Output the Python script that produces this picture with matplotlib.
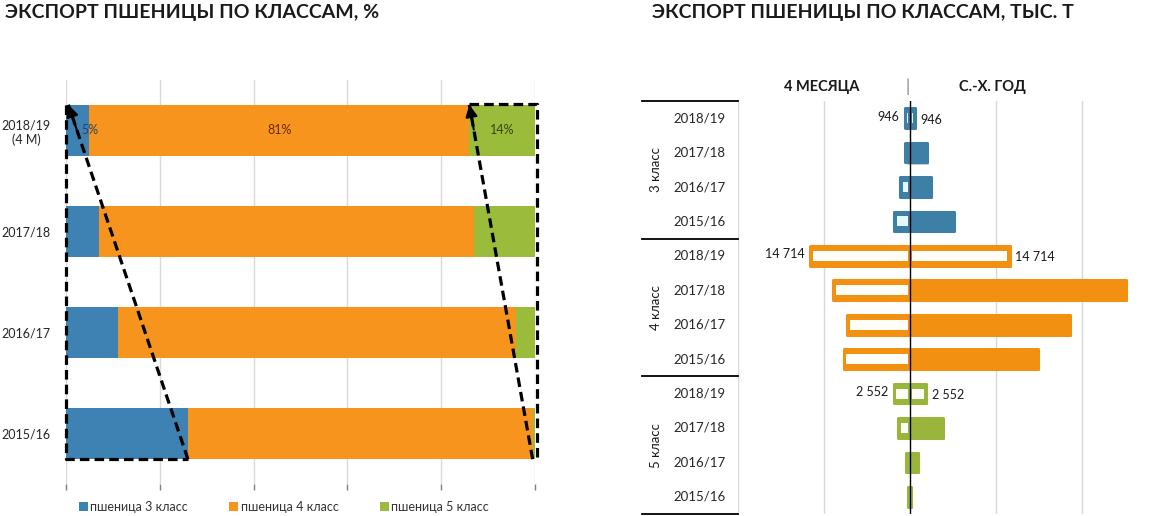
import matplotlib
matplotlib.use('Agg')
import matplotlib.pyplot as plt
import matplotlib.patheffects as pe
from matplotlib.patches import Patch

plt.rcParams['font.family'] = ['Lato', 'DejaVu Sans']

# Left chart: export shares by class, %
season_labels = ['2018/19\n(4 М)', '2017/18', '2016/17', '2015/16']
pct_cls3 = [5, 7, 11, 26]
pct_cls4 = [81, 80, 85, 73.5]
pct_cls5 = [14, 13, 4, 0.5]
legend_labels = ['пшеница 3 класс', 'пшеница 4 класс', 'пшеница 5 класс']

# Right chart: export volumes, thousand t (4 months vs. whole season)
seasons = ['2018/19', '2017/18', '2016/17', '2015/16']
class_names = ['3 класс', '4 класс', '5 класс']
m4_cls3 = [946, 900, 1600, 2500]
m4_cls4 = [14714, 11350, 9300, 9850]
m4_cls5 = [2552, 1950, 850, 450]
yr_cls3 = [946, 2700, 3300, 6600]
yr_cls4 = [14714, 31600, 23450, 18800]
yr_cls5 = [2552, 5050, 1350, 350]
grid_step = 12500

W, H = 1167, 516
fig = plt.figure(figsize=(W / 100, H / 100), dpi=100)


def fx(px):
    return px / W


def fy(py):
    return 1 - py / H


blue, orange, green = '#3d82b3', '#f7941d', '#9bbb3a'
blue_r, orange_r, green_r = '#3e7fa6', '#f29111', '#99b53b'

# ---------- left chart ----------
axL = fig.add_axes([fx(66), fy(484), fx(535 - 66), (484 - 80) / H])
ypos = [3, 2, 1, 0]
bh = 0.51
left4 = [a for a in pct_cls3]
left5 = [a + b for a, b in zip(pct_cls3, pct_cls4)]
axL.barh(ypos, pct_cls3, height=bh, color=blue, zorder=2)
axL.barh(ypos, pct_cls4, left=left4, height=bh, color=orange, zorder=2)
axL.barh(ypos, pct_cls5, left=left5, height=bh, color=green, zorder=2)
axL.set_xlim(0, 100)
axL.set_ylim(-0.5, 3.5)
axL.set_xticks(range(0, 101, 20))
axL.set_xticklabels([])
axL.grid(axis='x', color='#d9d9d9', lw=1, zorder=0)
axL.set_axisbelow(True)
for s in axL.spines.values():
    s.set_visible(False)
axL.tick_params(axis='x', direction='out', length=4, width=1, color='#7f7f7f')
axL.tick_params(axis='y', length=0, pad=11, labelsize=9, labelcolor='#262626')
axL.set_yticks(ypos)
axL.set_yticklabels(season_labels)
for lbl in axL.get_yticklabels():
    lbl.set_multialignment('center')

# data labels for the current season
axL.text(pct_cls3[0], ypos[0], f'{pct_cls3[0]}%', ha='center', va='center',
         fontsize=9, color='#27445e', zorder=4)
axL.text(left4[0] + pct_cls4[0] / 2, ypos[0], f'{pct_cls4[0]}%', ha='center',
         va='center', fontsize=9, color='#6b2a00', zorder=4)
axL.text(left5[0] + pct_cls5[0] / 2, ypos[0], f'{pct_cls5[0]}%', ha='center',
         va='center', fontsize=9, color='#3a4418', zorder=4)

# dashed highlight frames with arrows
top = ypos[0] + bh / 2
bot = ypos[-1] - bh / 2
dash = dict(color='black', lw=2.3, linestyle=(0, (3, 1.6)), zorder=6, clip_on=False)


def dashed_arrow(ax, start, tip):
    ax.plot([start[0], tip[0]], [start[1], tip[1]], **dash)
    back = (tip[0] + 0.07 * (start[0] - tip[0]), tip[1] + 0.07 * (start[1] - tip[1]))
    ax.annotate('', xy=tip, xytext=back, zorder=7, annotation_clip=False,
                arrowprops=dict(arrowstyle='-|>', color='black', lw=1.5,
                                mutation_scale=18, shrinkA=0, shrinkB=0))


axL.plot([0, 0, pct_cls3[-1]], [top, bot, bot], **dash)
dashed_arrow(axL, (pct_cls3[-1], bot), (0.5, top))
edge = 100.4
axL.plot([left5[0], edge, edge], [top + 0.01, top + 0.01, bot], **dash)
dashed_arrow(axL, (left5[-1], bot), (left5[0], top))

fig.legend(handles=[Patch(facecolor=c) for c in (blue, orange, green)],
           labels=legend_labels, loc='center', bbox_to_anchor=(fx(284), fy(507)),
           ncol=3, frameon=False, handlelength=0.7, handleheight=0.7,
           handletextpad=0.2, columnspacing=3.3, fontsize=9, labelcolor='#333333')

fig.text(fx(5), fy(18), 'ЭКСПОРТ ПШЕНИЦЫ ПО КЛАССАМ, %', fontsize=14,
         weight='bold', color='#1a1a1a', va='baseline')

# ---------- right chart ----------
axR = fig.add_axes([fx(738), fy(514), fx(1168 - 738), (514 - 101) / H])
axR.set_xlim(-2 * grid_step, 3 * grid_step)
axR.set_ylim(11.5, -0.5)
axR.axis('off')
for k in range(-2, 4):
    if k != 0:
        axR.axvline(k * grid_step, color='#d9d9d9', lw=1, zorder=0)
axR.axvline(0, color='black', lw=1, zorder=8)

unit = 5 * grid_step / 430  # data units per pixel
shadow = [pe.SimplePatchShadow(offset=(1.5, -1.5), shadow_rgbFace='#777777', alpha=0.35),
          pe.Normal()]


def draw_bar(y, value, sign, color, hollow, inner):
    w = max(value - 1.4 * unit, 0.3 * unit)
    axR.barh(y, sign * w, height=0.57, color=color, edgecolor=color, linewidth=2.2,
             joinstyle='round', path_effects=shadow, zorder=3)
    if hollow:
        gap, border = 2 * unit, 4 * unit
        iw = value - border - gap
        if iw > 0:
            axR.barh(y, sign * iw, left=sign * gap, height=0.29, color=inner,
                     linewidth=0, zorder=4)


groups = [(m4_cls3, yr_cls3, blue_r, '#e4f7fb'),
          (m4_cls4, yr_cls4, orange_r, '#fffdf7'),
          (m4_cls5, yr_cls5, green_r, '#fbfdf4')]
for g, (m4, yr, col, inner) in enumerate(groups):
    for i in range(len(seasons)):
        y = g * 4 + i
        draw_bar(y, m4[i], -1, col, True, inner)
        draw_bar(y, yr[i], 1, col, i == 0, inner)
    y0 = g * 4
    axR.annotate(f'{m4[0]:,}'.replace(',', ' '), (-m4[0], y0), xytext=(-3, 1),
                 textcoords='offset points', ha='right', va='center', fontsize=9,
                 color='#1a1a1a', zorder=9)
    axR.annotate(f'{yr[0]:,}'.replace(',', ' '), (yr[0], y0), xytext=(3, -1),
                 textcoords='offset points', ha='left', va='center', fontsize=9,
                 color='#1a1a1a', zorder=9)

# category table on the left of the right chart
axT = fig.add_axes([fx(642), fy(514), fx(738 - 642), (514 - 101) / H])
axT.set_xlim(0, 1)
axT.set_ylim(11.5, -0.5)
axT.axis('off')
for yl in [-0.5, 3.5, 7.5, 11.5]:
    axT.plot([0, 1], [yl, yl], color='black', lw=1.3, clip_on=False)
for g, name in enumerate(class_names):
    axT.text(0.15, g * 4 + 1.5, name, rotation=90, ha='center', va='center',
             fontsize=9.5, color='#1a1a1a')
    for i, s in enumerate(seasons):
        axT.text(0.6, g * 4 + i, s, ha='center', va='center', fontsize=9.5,
                 color='#262626')

fig.text(fx(822), fy(87), '4 МЕСЯЦА', ha='center', va='center', fontsize=10.5,
         weight='bold', color='#1a1a1a')
fig.text(fx(908), fy(87), '|', ha='center', va='center', fontsize=12, color='#7f7f7f')
fig.text(fx(992), fy(87), 'С.-Х. ГОД', ha='center', va='center', fontsize=10.5,
         weight='bold', color='#1a1a1a')
fig.text(fx(652), fy(18), 'ЭКСПОРТ ПШЕНИЦЫ ПО КЛАССАМ, ТЫС. Т', fontsize=14,
         weight='bold', color='#1a1a1a', va='baseline')

fig.savefig('out.png', dpi=100)
